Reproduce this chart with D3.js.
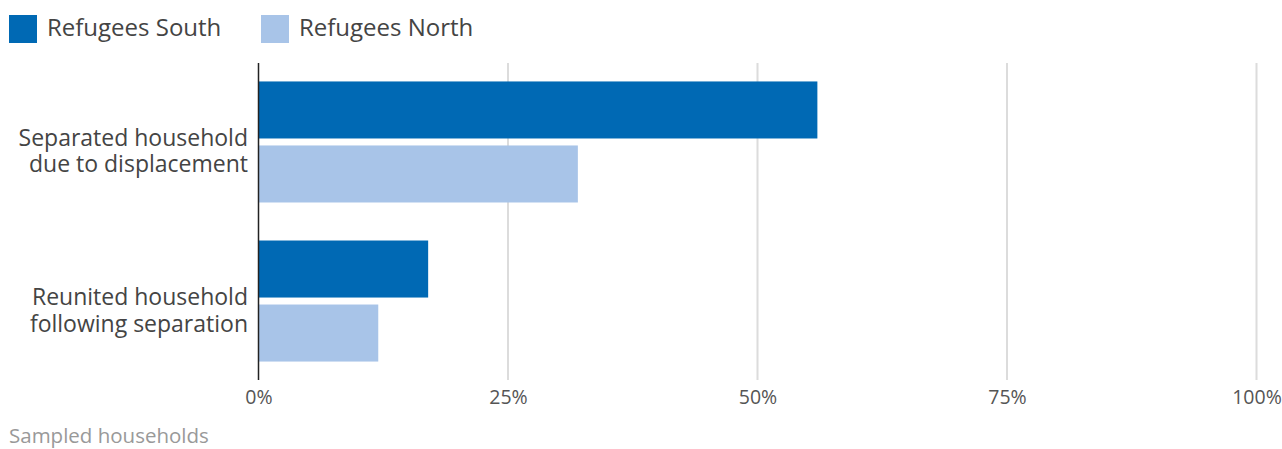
<!DOCTYPE html>
<html><head><meta charset="utf-8">
<script src="https://cdn.jsdelivr.net/npm/d3@7"></script>
<style>
body{margin:0;background:#fff;}
text{font-family:"Open Sans",Lato,sans-serif;}
</style></head>
<body>
<svg id="c" width="1282" height="449"></svg>
<script>
const categories = [["Separated household","due to displacement"],["Reunited household","following separation"]];
const categoryKeys = ["Separated","Reunited"];
const series = ["Refugees South","Refugees North"];
const southValues = [56, 17];
const northValues = [32, 12];
const tickValues = [0, 25, 50, 75, 100];
const colors = ["#0069b4", "#a8c4e8"];
const caption = "Sampled households";

const svg = d3.select("#c");
const x = d3.scaleLinear().domain([0,100]).range([258.5,1256.5]);
const y0 = d3.scaleBand().domain(categoryKeys).range([63,380]).paddingInner(0.239).paddingOuter(0.116);
const y1 = d3.scaleBand().domain(series).range([0,y0.bandwidth()]).paddingInner(0.109).paddingOuter(0);

// grid
svg.append("g").selectAll("line").data(tickValues.filter(d=>d>0)).join("line")
  .attr("x1",d=>x(d)).attr("x2",d=>x(d)).attr("y1",63).attr("y2",380)
  .attr("stroke","#dcdcdc").attr("stroke-width",2);

// x axis labels
const xa = svg.append("g").attr("transform","translate(0,380)")
  .call(d3.axisBottom(x).tickValues(tickValues).tickFormat(d=>d+"%").tickSize(0).tickPadding(0));
xa.select(".domain").remove();
xa.selectAll("text").attr("dy",null).attr("y",24).attr("font-size",19.5).attr("fill","#555")
  .style("font-family","'Open Sans',Lato,sans-serif");

const data = categoryKeys.map((k,i)=>({key:k, values:[southValues[i], northValues[i]]}));
const g = svg.append("g").selectAll("g").data(data).join("g")
  .attr("transform",d=>`translate(0,${y0(d.key)})`);
g.selectAll("rect").data(d=>d.values.map((v,j)=>({s:series[j],v,j}))).join("rect")
  .attr("x",x(0)).attr("y",d=>y1(d.s)).attr("height",y1.bandwidth())
  .attr("width",d=>x(d.v)-x(0)).attr("fill",d=>colors[d.j]);

// zero line
svg.append("line").attr("x1",x(0)).attr("x2",x(0)).attr("y1",63).attr("y2",380)
  .attr("stroke","#222").attr("stroke-width",1.5);

// category labels
categoryKeys.forEach((k,i)=>{
  const cy = y0(k)+y0.bandwidth()/2;
  const t = svg.append("text").attr("x",248).attr("text-anchor","end")
    .attr("font-size",23).attr("fill","#444");
  categories[i].forEach((line,li)=>{
    t.append("tspan").attr("x",248).attr("y",cy+4+li*26.5).text(line);
  });
});

// legend
const lg = svg.append("g");
const lx = [9, 261];
series.forEach((s,i)=>{
  lg.append("rect").attr("x",lx[i]).attr("y",15).attr("width",28).attr("height",28).attr("fill",colors[i]);
  lg.append("text").attr("x",lx[i]+38).attr("y",36).attr("font-size",24).attr("fill","#444").text(s);
});

svg.append("text").attr("x",9).attr("y",443).attr("font-size",20.5).attr("fill","#999").text(caption);
</script>
</body></html>
